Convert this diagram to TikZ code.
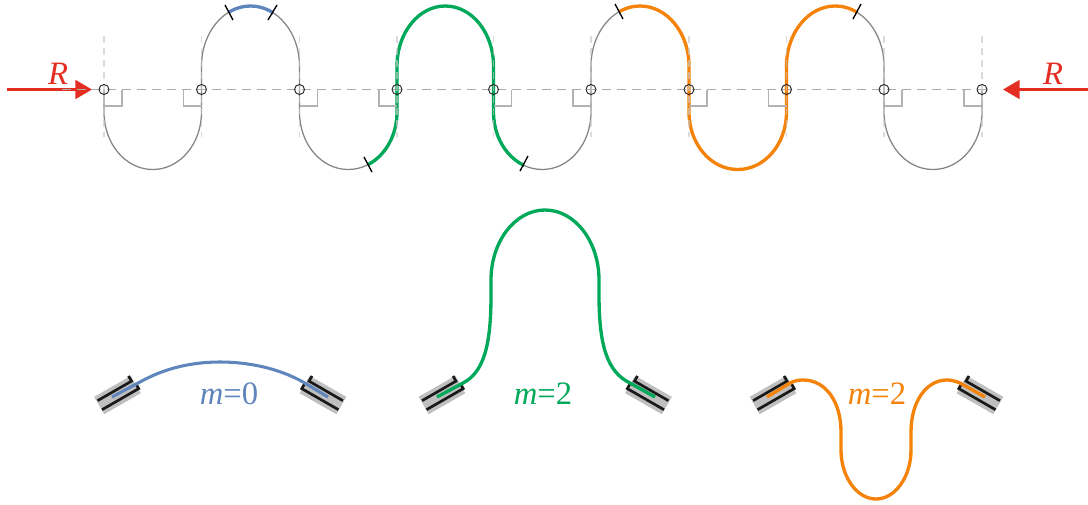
\documentclass[tikz,border=0pt]{standalone}
\usepackage{fontspec}
\setmainfont{Liberation Serif}
\usetikzlibrary{arrows.meta}
\definecolor{cblue}{HTML}{5F86BC}
\definecolor{cgreen}{HTML}{00A859}
\definecolor{corange}{HTML}{F5830A}
\definecolor{cred}{HTML}{E32D20}
\def\px{0.75pt}
\tikzset{
  lab/.style={font=\fontsize{24.5}{29}\selectfont, inner sep=0pt},
  pivot/.style={circle, draw=black!85, line width=0.7pt, minimum size=7.5pt, inner sep=0pt},
  wavegray/.style={draw=black!48, line width=0.95pt},
  coloured/.style={line width=2.5pt, line join=round},
  redarrow/.style={draw=cred, line width=2.1pt, -{Triangle[length=12.5pt,width=14pt]}},
  hdash/.style={draw=black!33, line width=0.75pt, dash pattern=on 6.5pt off 4.75pt},
  vdash/.style={draw=black!22, opacity=0.65, line width=1.05pt, dash pattern=on 5.5pt off 3.5pt},
  rangle/.style={draw=black!30, line width=0.8pt},
  tick/.style={draw=black, line width=1pt},
  band/.style={fill=black!25, draw=none},
  jaw/.style={draw=black!90, line width=2pt, line join=miter},
}
% the wave of the upper row: upward and downward lobes between two x positions
\def\uplobe#1#2{-- (#1,66) .. controls (#1,32.9) and ({#1+0.2238*(#2-#1)},6) .. ({(#1+#2)/2},6) .. controls ({#2-0.2238*(#2-#1)},6) and (#2,32.9) .. (#2,66) -- (#2,89.5)}
\def\dnlobe#1#2{-- (#1,112) .. controls (#1,144.1) and ({#1+0.2238*(#2-#1)},169.5) .. ({(#1+#2)/2},169.5) .. controls ({#2-0.2238*(#2-#1)},169.5) and (#2,144.1) .. (#2,112) -- (#2,89.5)}
\def\fullwave{(104,89.5) \dnlobe{104}{201.5} \uplobe{201.5}{299.5} \dnlobe{299.5}{397} \uplobe{397}{493.5} \dnlobe{493.5}{591} \uplobe{591}{689} \dnlobe{689}{786.5} \uplobe{786.5}{884} \dnlobe{884}{982}}
% one clamp, drawn around its centre with its axis rising to the right
\newcommand\clamp[3]{%
  \begin{scope}[shift={(#1,#2)}, xscale=#3]
    \fill[band] (-23.3,1.8) -- (13.3,-19.2) -- (23.3,-1.8) -- (-13.3,19.2) -- cycle;
    \draw[jaw] (-19.9,5.65) -- (14,-13.85) -- (11,-19.05);
    \draw[jaw] (-15.5,14.7) -- (21.2,-6.4) -- (18.7,-10.75);
  \end{scope}}
\begin{document}
\begin{tikzpicture}[x=\px, y=-\px]
\useasboundingbox (0,0) rectangle (1088,504);
% red load arrows
\coordinate (la) at (7,89.5);
\coordinate (lb) at (92,89.5);
\coordinate (ra) at (1088,89.5);
\coordinate (rb) at (1003,89.5);
\draw[redarrow] (la) -- (lb);
\draw[redarrow] (ra) -- (rb);
\node[lab, text=cred] (rl) at (58,73.5) {\textit{R}};
\node[lab, text=cred] (rr) at (1053,73.5) {\textit{R}};
% horizontal axis
\coordinate (ha) at (62,89.5);
\coordinate (hb) at (992,89.5);
\draw[hdash] (ha) -- (hb);
% upper wave
\draw[wavegray] \fullwave;
\begin{scope}
  \clip (229,0) rectangle (273,60);
  \draw[coloured, cblue] \fullwave;
\end{scope}
\begin{scope}
  \clip (368,0) rectangle (524,180);
  \draw[coloured, cgreen] \fullwave;
\end{scope}
\begin{scope}
  \clip (619,0) rectangle (857,180);
  \draw[coloured, corange] \fullwave;
\end{scope}
% vertical dashes
\foreach \xx in {104,201.5,299.5,397,493.5,591,689,786.5,884,982}
  \draw[vdash] (\xx,36) -- (\xx,137);
% right angle marks
\foreach \xx in {104,299.5,493.5,689,884}
  \draw[rangle] (\xx,106) -- (\xx+18,106) -- (\xx+18,89.5);
\foreach \xx in {201.5,397,591,786.5,982}
  \draw[rangle] (\xx,106) -- (\xx-18,106) -- (\xx-18,89.5);
% pivots
\foreach \xx [count=\i] in {104,201.5,299.5,397,493.5,591,689,786.5,884,982}
  \node[pivot] (p\i) at (\xx,89.5) {};
% ticks
\draw[tick] (225,5) -- (233,20);
\draw[tick] (277,5) -- (268,20);
\draw[tick] (364,157) -- (372,172);
\draw[tick] (528,156) -- (520,171);
\draw[tick] (615,4) -- (623,19);
\draw[tick] (861,4) -- (853,19);
% lower row clamps
\clamp{117.5}{395}{1}
\clamp{323}{395}{-1}
\clamp{442}{395}{1}
\clamp{648.5}{395}{-1}
\clamp{773}{395}{1}
\clamp{980}{395}{-1}
% lower row curves
\draw[coloured, cblue, line width=2.3pt] (112,397) -- (140,382) .. controls (165,368) and (192,362) .. (220,362) .. controls (248,362) and (278,368) .. (303,382) -- (328,397);
\draw[coloured, cgreen] (437,397) -- (463,383) .. controls (484,372) and (491,345) .. (491,295) -- (491,280) .. controls (491,241.3) and (515.2,210) .. (545,210) .. controls (574.8,210) and (599,241.3) .. (599,280) -- (599,295) .. controls (599,345) and (607,372) .. (630,383) -- (655,397);
\draw[coloured, corange] (767,397) -- (790,383) .. controls (795,380.5) and (799,380) .. (803,380) .. controls (826,380) and (841,402) .. (841,432) -- (841,450) .. controls (841,477) and (857,499) .. (876,499) .. controls (895,499) and (911,477) .. (911,450) -- (911,432) .. controls (911,402) and (926,380) .. (947,380) .. controls (951,380) and (955,381) .. (960,383) -- (985,397);
% labels
\node[lab, text=cblue] (t0) at (229,394) {\textit{m}=0};
\node[lab, text=cgreen] (t1) at (543,394) {\textit{m}=2};
\node[lab, text=corange] (t2) at (877,394) {\textit{m}=2};
\end{tikzpicture}
\end{document}
